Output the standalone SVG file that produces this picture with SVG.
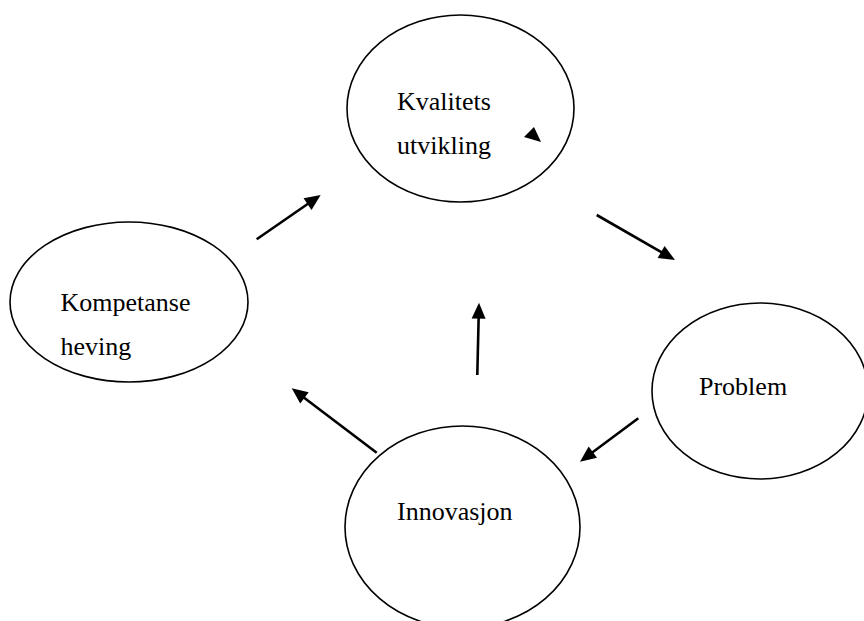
<svg xmlns="http://www.w3.org/2000/svg" width="864" height="621" viewBox="0 0 864 621">
<defs>
<style>
.node ellipse{fill:#fff;stroke:#000;stroke-width:1.6}
.label{font-family:"Liberation Serif","Times New Roman",serif;font-size:26px;fill:#000}
.conn line{stroke:#000;stroke-width:2.6;fill:none}
</style>
<marker id="ah" markerUnits="userSpaceOnUse" markerWidth="16" markerHeight="14" refX="12" refY="7" orient="auto" overflow="visible">
<path d="M0,0 L16,7 L0,14 z" fill="#000"/>
</marker>
</defs>
<rect width="864" height="621" fill="#fff"/>
<g id="kvalitets" class="node">
<ellipse cx="460.5" cy="108.5" rx="113.5" ry="93.5"/>
<text class="label" x="397" y="110">Kvalitets</text>
<text class="label" x="397" y="154">utvikling</text>
<polygon points="524,137 534,127 541,142" fill="#000"/>
</g>
<g id="kompetanse" class="node">
<ellipse cx="129" cy="302" rx="119" ry="80"/>
<text class="label" x="60.5" y="310.5">Kompetanse</text>
<text class="label" x="60.5" y="355">heving</text>
</g>
<g id="problem" class="node">
<ellipse cx="760" cy="391" rx="108" ry="88"/>
<text class="label" x="699" y="395">Problem</text>
</g>
<g id="innovasjon" class="node">
<ellipse cx="462.5" cy="527" rx="117.5" ry="101"/>
<text class="label" x="397" y="520">Innovasjon</text>
</g>
<g id="connectors" class="conn">
<line x1="256.7" y1="239.3" x2="317.4" y2="197.3" marker-end="url(#ah)"/>
<line x1="596.7" y1="215" x2="671.5" y2="258" marker-end="url(#ah)"/>
<line x1="638.3" y1="418.3" x2="583.2" y2="459.3" marker-end="url(#ah)"/>
<line x1="376.7" y1="452.7" x2="294.9" y2="390.7" marker-end="url(#ah)"/>
<line x1="477.3" y1="375" x2="478.9" y2="306.7" marker-end="url(#ah)"/>
</g>
</svg>
